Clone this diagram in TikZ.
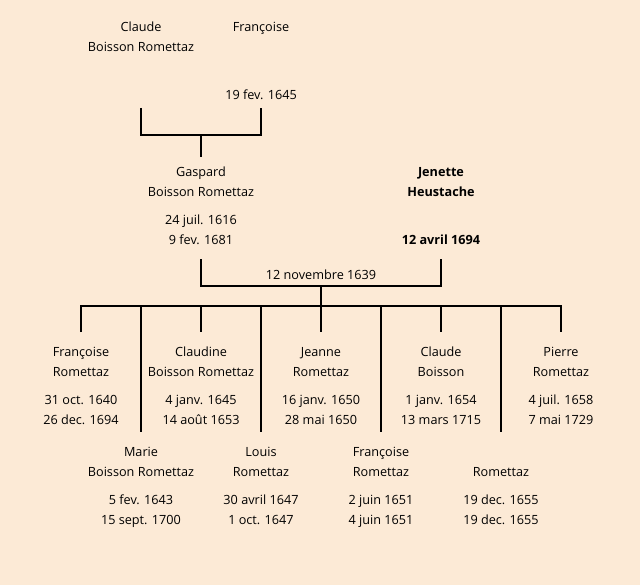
\documentclass[tikz,border=0pt]{standalone}
\usepackage{fontspec}
\setmainfont{Open Sans}
\usetikzlibrary{positioning}
\definecolor{parchment}{HTML}{FCEAD6}
\newcommand\twoline[2]{\strut#1\\\strut#2}

\begin{document}
\begin{tikzpicture}[x=0.75pt, y=-0.75pt, node distance=6pt,
        who/.style={anchor=north, inner sep=0pt, align=center, font=\fontsize{9.5}{15}\selectfont},
        link/.style={line width=1.5pt}]

    \fill[parchment] (0,0) rectangle (640,585);

    % grandparents
    \node (claude) [who] at (141,17) {\twoline{Claude}{Boisson Romettaz}};
    \node (francoise) [who] at (261,17) {\twoline{Françoise}{}};
    \node (francoiseD) [who, below=of francoise] {\twoline{}{19 fev. 1645}};

    % parents
    \node (gaspard) [who] at (201,162) {\twoline{Gaspard}{Boisson Romettaz}};
    \node (gaspardD) [who, below=of gaspard] {\twoline{24 juil. 1616}{9 fev. 1681}};
    \node (jenette) [who, font=\fontsize{9.5}{15}\selectfont\bfseries] at (441,162) {\twoline{Jenette}{Heustache}};
    \node (jenetteD) [who, below=of jenette, font=\fontsize{9.5}{15}\selectfont\bfseries] {\twoline{}{12 avril 1694}};
    \node (wedding) [who] at (321,265) {\strut 12 novembre 1639};

    % children, first row
    \node (francoiseR) [who] at (81,342) {\twoline{Françoise}{Romettaz}};
    \node (francoiseRD) [who, below=of francoiseR] {\twoline{31 oct. 1640}{26 dec. 1694}};
    \node (claudine) [who] at (201,342) {\twoline{Claudine}{Boisson Romettaz}};
    \node (claudineD) [who, below=of claudine] {\twoline{4 janv. 1645}{14 août 1653}};
    \node (jeanne) [who] at (321,342) {\twoline{Jeanne}{Romettaz}};
    \node (jeanneD) [who, below=of jeanne] {\twoline{16 janv. 1650}{28 mai 1650}};
    \node (claudeB) [who] at (441,342) {\twoline{Claude}{Boisson}};
    \node (claudeBD) [who, below=of claudeB] {\twoline{1 janv. 1654}{13 mars 1715}};
    \node (pierre) [who] at (561,342) {\twoline{Pierre}{Romettaz}};
    \node (pierreD) [who, below=of pierre] {\twoline{4 juil. 1658}{7 mai 1729}};

    % children, second row
    \node (marie) [who] at (141,442) {\twoline{Marie}{Boisson Romettaz}};
    \node (marieD) [who, below=of marie] {\twoline{5 fev. 1643}{15 sept. 1700}};
    \node (louis) [who] at (261,442) {\twoline{Louis}{Romettaz}};
    \node (louisD) [who, below=of louis] {\twoline{30 avril 1647}{1 oct. 1647}};
    \node (francoiseB) [who] at (381,442) {\twoline{Françoise}{Romettaz}};
    \node (francoiseBD) [who, below=of francoiseB] {\twoline{2 juin 1651}{4 juin 1651}};
    \node (rometaz) [who] at (501,442) {\twoline{}{Romettaz}};
    \node (rometazD) [who, below=of rometaz] {\twoline{19 dec. 1655}{19 dec. 1655}};

    % brackets
    \coordinate (up1) at (141,108);
    \coordinate (up2) at (261,108);
    \coordinate (wed1) at (201,135);
    \coordinate (up3) at (201,259);
    \coordinate (up4) at (441,259);
    \coordinate (wed2) at (321,286);
    \coordinate (bar) at (321,306);

    \draw [link] (up1) |- (wed1) -| (up2);
    \draw [link] (wed1) -- ([yshift=3.75pt]gaspard.north);
    \draw [link] (up3) |- (wed2) -| (up4);
    \draw [link] (wed2) -- (bar);
    \draw [link] ([yshift=7.5pt]francoiseR.north) |- (bar) -| ([yshift=7.5pt]pierre.north);
    \draw [link] (bar -| claudine) -- ([yshift=7.5pt]claudine.north);
    \draw [link] (bar -| jeanne) -- ([yshift=7.5pt]jeanne.north);
    \draw [link] (bar -| claudeB) -- ([yshift=7.5pt]claudeB.north);
    \draw [link] (bar -| marie) -- ([yshift=7.5pt]marie.north);
    \draw [link] (bar -| louis) -- ([yshift=7.5pt]louis.north);
    \draw [link] (bar -| francoiseB) -- ([yshift=7.5pt]francoiseB.north);
    \draw [link] (bar -| rometaz) -- ([yshift=7.5pt]rometaz.north);
\end{tikzpicture}
\end{document}
